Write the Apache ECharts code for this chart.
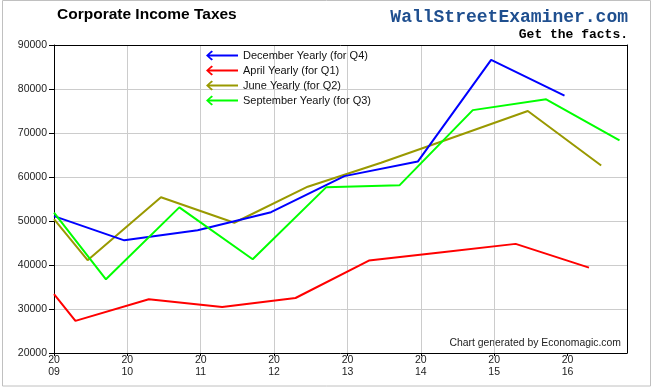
<!DOCTYPE html>
<html>
<head>
<meta charset="utf-8">
<script src="https://cdn.jsdelivr.net/npm/echarts@6/dist/echarts.min.js"></script>
<style>
html,body{margin:0;padding:0;background:#fff;}
#chart{width:653px;height:389px;}
</style>
</head>
<body>
<div id="chart"></div>
<script>
// ---- data (x in decimal years, values in millions $) ----
const decX = [2009.0, 2009.958, 2010.958, 2011.958, 2012.958, 2013.958, 2014.958, 2015.958];
const decY = [51100, 45600, 47900, 52000, 60200, 63500, 86600, 78500];

const aprX = [2009.0, 2009.292, 2010.292, 2011.292, 2012.292, 2013.292, 2014.292, 2015.292, 2016.292];
const aprY = [33400, 27300, 32200, 30450, 32500, 41000, 42900, 44800, 39400];

const junX = [2009.0, 2009.458, 2010.458, 2011.458, 2012.458, 2013.458, 2014.458, 2015.458, 2016.458];
const junY = [50400, 41100, 55400, 49600, 57800, 63250, 69100, 75000, 62600];

const sepX = [2009.0, 2009.708, 2010.708, 2011.708, 2012.708, 2013.708, 2014.708, 2015.708, 2016.708];
const sepY = [51900, 36750, 53100, 41300, 57650, 58100, 75200, 77650, 68350];

const seriesNames = ['December Yearly (for Q4)', 'April Yearly (for Q1)', 'June Yearly (for Q2)', 'September Yearly (for Q3)'];
const tickYears = [2009, 2010, 2011, 2012, 2013, 2014, 2015, 2016];
const tickLabels = ['20\n09', '20\n10', '20\n11', '20\n12', '20\n13', '20\n14', '20\n15', '20\n16'];
const yTicks = [20000, 30000, 40000, 50000, 60000, 70000, 80000, 90000];

const pair = (xs, ys) => xs.map((x, i) => [x, ys[i]]);

const FONT = '"Liberation Sans", Arial, sans-serif';
const arrowIcon = 'path://M0,5 L5.5,0 L7,1.3 L3.4,4.1 L32,4.1 L32,5.9 L3.4,5.9 L7,8.7 L5.5,10 Z';

const chart = echarts.init(document.getElementById('chart'), null, {renderer: 'canvas'});

const lineSeries = (name, data, color, z) => ({
  name: name,
  type: 'line',
  data: data,
  showSymbol: false,
  symbol: 'none',
  clip: true,
  z: z,
  lineStyle: {color: color, width: 2},
  itemStyle: {color: color},
  emphasis: {disabled: true},
  animation: false
});

const option = {
  animation: false,
  backgroundColor: '#fff',
  grid: {left: 54, right: 26, top: 45, bottom: 36, containLabel: false},
  xAxis: [{
    type: 'value',
    min: 2009,
    max: 2016.81,
    interval: 1,
    axisLine: {show: true, lineStyle: {color: '#000', width: 1}},
    axisTick: {show: true, length: 3, lineStyle: {color: '#000'}, customValues: tickYears},
    axisLabel: {
      customValues: tickYears,
      margin: 1,
      color: '#222',
      fontSize: 10.5,
      fontFamily: FONT,
      lineHeight: 12,
      formatter: function (v) {
        const i = tickYears.indexOf(Math.round(v));
        return (Math.abs(v - Math.round(v)) < 1e-6 && i >= 0) ? tickLabels[i] : '';
      }
    },
    splitLine: {show: true, showMinLine: false, showMaxLine: false, lineStyle: {color: '#cccccc', width: 1}}
  }, {
    type: 'value', position: 'top', min: 2009, max: 2016.81,
    axisLine: {show: true, lineStyle: {color: '#000', width: 1}},
    axisTick: {show: false}, axisLabel: {show: false}, splitLine: {show: false}
  }],
  yAxis: [{
    type: 'value',
    min: 20000,
    max: 90000,
    interval: 10000,
    axisLine: {show: true, lineStyle: {color: '#000', width: 1}},
    axisTick: {show: true, length: 5, lineStyle: {color: '#000'}},
    axisLabel: {
      margin: 7, color: '#222', fontSize: 10.5, fontFamily: FONT,
      formatter: function (v) {
        const i = yTicks.indexOf(v);
        return i >= 0 ? String(yTicks[i]) : '';
      }
    },
    splitLine: {show: true, showMinLine: false, showMaxLine: false, lineStyle: {color: '#cccccc', width: 1}}
  }, {
    type: 'value', position: 'right', min: 20000, max: 90000, interval: 10000,
    axisLine: {show: true, lineStyle: {color: '#000', width: 1}},
    axisTick: {show: false}, axisLabel: {show: false}, splitLine: {show: false}
  }],
  legend: {
    data: seriesNames,
    orient: 'vertical',
    left: 206,
    top: 50,
    padding: 0,
    itemWidth: 32,
    itemHeight: 10,
    itemGap: 4,
    icon: arrowIcon,
    itemStyle: {borderWidth: 0},
    textStyle: {color: '#111', fontSize: 11, fontFamily: FONT},
    selectedMode: false
  },
  graphic: [
    {type: 'rect', shape: {x: 2.5, y: 0.5, width: 648, height: 385.5}, style: {fill: 'none', stroke: '#c0c0c0', lineWidth: 1}, silent: true, z: -1},
    {type: 'text', left: 57, top: 7, style: {text: 'Corporate Income Taxes', font: 'bold 15.5px ' + FONT, fill: '#000'}},
    {type: 'text', right: 25, top: 8, style: {text: 'WallStreetExaminer.com', font: 'bold 18px "Liberation Mono", "DejaVu Sans Mono", monospace', fill: '#1f4f8f', shadowColor: 'rgba(0,0,0,0.35)', shadowOffsetX: 1, shadowOffsetY: 1, shadowBlur: 0}},
    {type: 'text', right: 25, top: 28, style: {text: 'Get the facts.', font: 'bold 13px "Liberation Mono", "DejaVu Sans Mono", monospace', fill: '#000'}},
    {type: 'text', right: 32, top: 338, style: {text: 'Chart generated by Economagic.com', font: '10.4px ' + FONT, fill: '#222'}}
  ],
  series: [
    lineSeries(seriesNames[2], pair(junX, junY), '#999900', 2),
    lineSeries(seriesNames[1], pair(aprX, aprY), '#ff0000', 3),
    lineSeries(seriesNames[0], pair(decX, decY), '#0000ff', 4),
    lineSeries(seriesNames[3], pair(sepX, sepY), '#00ff00', 5)
  ]
};
chart.setOption(option);
</script>
</body>
</html>
